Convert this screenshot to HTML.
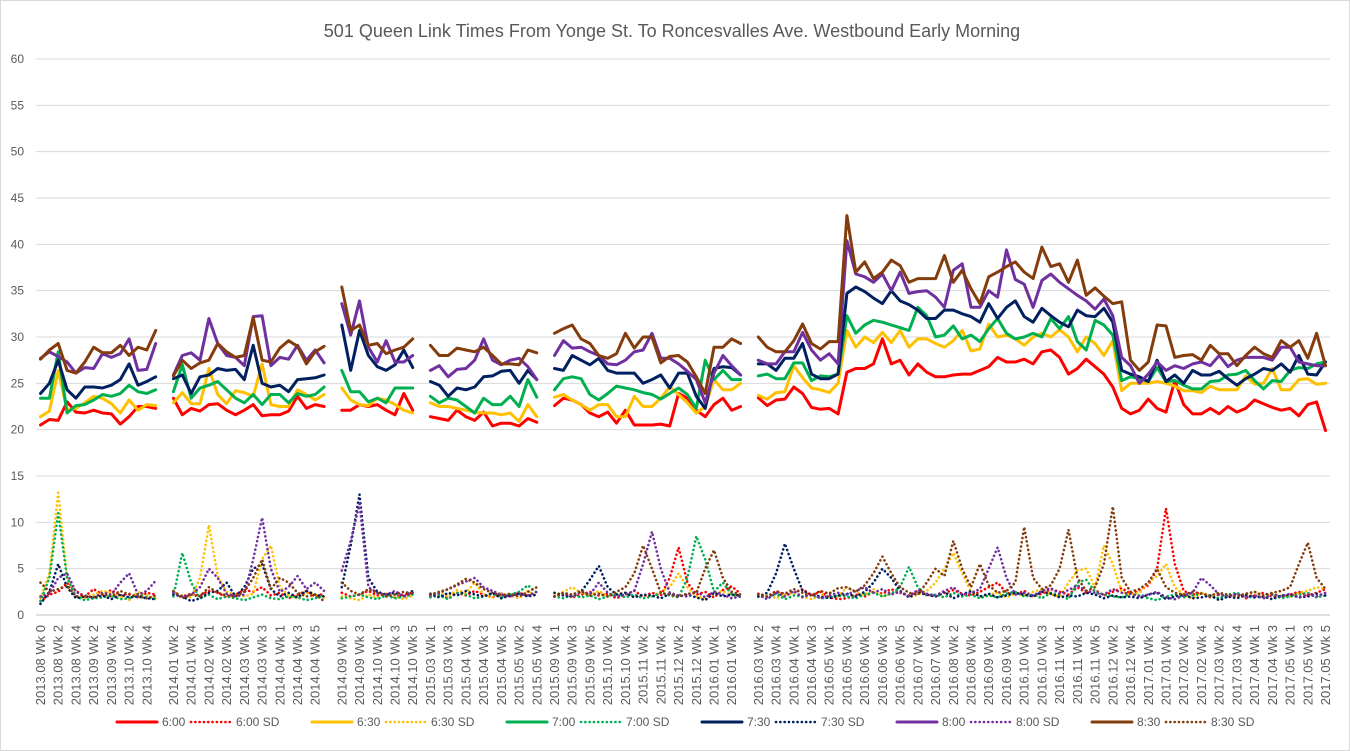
<!DOCTYPE html>
<html><head><meta charset="utf-8"><style>
html,body{margin:0;padding:0;background:#fff;}
svg{display:block;font-family:"Liberation Sans",Arial,sans-serif;}
</style></head><body>
<svg id="chart" width="1350" height="751" viewBox="0 0 1350 751">
<rect x="0.5" y="0.5" width="1349" height="750" fill="#fff" stroke="#d9d9d9"/>
<text x="672" y="37" text-anchor="middle" font-size="18" fill="#595959">501 Queen Link Times From Yonge St. To Roncesvalles Ave. Westbound Early Morning</text>
<g id="grid"></g><g id="yt"></g><g id="xt"></g><g id="series"></g><g id="legend"></g>
</svg>
<script>
const categories = [
"2013.08 Wk 0","2013.08 Wk 1","2013.08 Wk 2","2013.08 Wk 3","2013.08 Wk 4","2013.09 Wk 1","2013.09 Wk 2","2013.09 Wk 3","2013.09 Wk 4","2013.10 Wk 1","2013.10 Wk 2","2013.10 Wk 3","2013.10 Wk 4","2013.10 Wk 5",
"",
"2014.01 Wk 2","2014.01 Wk 3","2014.01 Wk 4","2014.01 Wk 5","2014.02 Wk 1","2014.02 Wk 2","2014.02 Wk 3","2014.02 Wk 4","2014.03 Wk 1","2014.03 Wk 2","2014.03 Wk 3","2014.03 Wk 4","2014.04 Wk 1","2014.04 Wk 2","2014.04 Wk 3","2014.04 Wk 4","2014.04 Wk 5","2014.05 Wk 1",
"",
"2014.09 Wk 1","2014.09 Wk 2","2014.09 Wk 3","2014.09 Wk 4","2014.10 Wk 1","2014.10 Wk 2","2014.10 Wk 3","2014.10 Wk 4","2014.10 Wk 5",
"",
"2015.03 Wk 1","2015.03 Wk 2","2015.03 Wk 3","2015.03 Wk 4","2015.04 Wk 1","2015.04 Wk 2","2015.04 Wk 3","2015.04 Wk 4","2015.04 Wk 5","2015.05 Wk 1","2015.05 Wk 2","2015.05 Wk 3","2015.05 Wk 4",
"",
"2015.09 Wk 1","2015.09 Wk 2","2015.09 Wk 3","2015.09 Wk 4","2015.09 Wk 5","2015.10 Wk 1","2015.10 Wk 2","2015.10 Wk 3","2015.10 Wk 4","2015.11 Wk 1","2015.11 Wk 2","2015.11 Wk 3","2015.11 Wk 4","2015.12 Wk 1","2015.12 Wk 2","2015.12 Wk 3","2015.12 Wk 4","2015.12 Wk 5","2016.01 Wk 1","2016.01 Wk 2","2016.01 Wk 3","2016.01 Wk 4",
"",
"2016.03 Wk 2","2016.03 Wk 3","2016.03 Wk 4","2016.03 Wk 5","2016.04 Wk 1","2016.04 Wk 2","2016.04 Wk 3","2016.04 Wk 4","2016.05 Wk 1","2016.05 Wk 2","2016.05 Wk 3","2016.05 Wk 4","2016.06 Wk 1","2016.06 Wk 2","2016.06 Wk 3","2016.06 Wk 4","2016.06 Wk 5","2016.07 Wk 1","2016.07 Wk 2","2016.07 Wk 3","2016.07 Wk 4","2016.08 Wk 1","2016.08 Wk 2","2016.08 Wk 3","2016.08 Wk 4","2016.08 Wk 5","2016.09 Wk 1","2016.09 Wk 2","2016.09 Wk 3","2016.09 Wk 4","2016.10 Wk 1","2016.10 Wk 2","2016.10 Wk 3","2016.10 Wk 4","2016.11 Wk 1","2016.11 Wk 2","2016.11 Wk 3","2016.11 Wk 4","2016.11 Wk 5","2016.12 Wk 1","2016.12 Wk 2","2016.12 Wk 3","2016.12 Wk 4","2017.01 Wk 1","2017.01 Wk 2","2017.01 Wk 3","2017.01 Wk 4","2017.02 Wk 1","2017.02 Wk 2","2017.02 Wk 3","2017.02 Wk 4","2017.03 Wk 1","2017.03 Wk 2","2017.03 Wk 3","2017.03 Wk 4","2017.03 Wk 5","2017.04 Wk 1","2017.04 Wk 2","2017.04 Wk 3","2017.04 Wk 4","2017.05 Wk 1","2017.05 Wk 2","2017.05 Wk 3","2017.05 Wk 4","2017.05 Wk 5"];

const yTicks = [0,5,10,15,20,25,30,35,40,45,50,55,60];
const seriesNames = ["6:00","6:00 SD","6:30","6:30 SD","7:00","7:00 SD","7:30","7:30 SD","8:00","8:00 SD","8:30","8:30 SD"];

const t600 = [20.5,21.1,21.0,23.0,21.9,21.8,22.1,21.8,21.7,20.6,21.4,22.5,22.5,22.3,null,
23.4,21.6,22.3,22.0,22.7,22.8,22.1,21.6,22.1,22.7,21.5,21.6,21.6,22.0,23.6,22.3,22.7,22.5,null,
22.1,22.1,22.7,22.5,22.7,22.1,21.6,23.9,22.1,null,
21.4,21.2,21.0,22.1,21.4,21.0,21.9,20.4,20.7,20.7,20.4,21.2,20.8,null,
22.6,23.4,23.2,22.7,21.8,21.4,21.9,20.7,22.1,20.5,20.5,20.5,20.6,20.4,23.9,23.4,22.1,21.4,22.7,23.4,22.1,22.5,null,
23.45,22.6,23.2,23.3,24.6,23.9,22.4,22.2,22.3,21.7,26.2,26.6,26.6,27.1,29.8,27.1,27.5,25.9,27.1,26.2,25.7,25.7,25.9,26.0,26.0,26.4,26.8,27.8,27.3,27.3,27.6,27.1,
28.4,28.6,27.8,26.0,26.6,27.6,26.8,26.0,24.6,22.3,21.7,22.1,23.3,22.3,21.9,25.3,22.7,21.7,21.7,22.3,21.7,22.5,21.9,22.3,23.2,22.8,22.4,22.1,22.3,21.5,22.7,23.0,19.9];

const t630 = [21.4,22.0,26.4,22.1,22.3,22.9,23.6,23.4,22.8,21.8,23.2,22.1,22.7,22.6,null,
22.9,24.0,22.8,22.8,26.6,23.8,22.8,24.2,24.0,23.6,27.1,22.7,22.5,22.5,24.3,23.8,23.2,23.8,null,
24.5,23.2,22.7,22.6,23.4,23.2,22.7,22.1,21.8,null,
22.9,22.5,22.5,22.3,22.1,21.9,21.8,21.8,21.6,21.8,20.9,22.7,21.4,null,
23.5,23.8,23.2,22.7,22.1,22.7,22.7,21.4,21.4,23.6,22.5,22.5,23.4,24.6,23.8,22.9,21.8,22.5,25.4,24.3,24.3,25.0,null,
23.7,23.3,24.0,24.1,26.9,25.6,24.5,24.3,24.0,25.0,30.7,28.9,30.0,29.4,30.5,29.4,30.7,28.9,29.8,29.8,29.3,28.9,29.6,30.7,28.5,28.7,31.4,30.0,30.2,29.8,29.1,30.0,
30.4,30.0,30.8,30.0,28.4,30.0,29.3,28.0,29.6,24.2,25.0,25.0,25.0,25.2,25.0,24.7,24.2,24.2,24.0,24.7,24.3,24.3,24.3,25.8,24.9,25.0,26.6,24.3,24.3,25.4,25.5,24.9,25.0];

const t700 = [23.4,23.4,28.4,21.8,22.6,22.7,23.2,23.8,23.6,23.9,24.8,24.1,23.9,24.3,null,
24.1,27.0,23.4,24.5,24.8,25.2,24.3,23.4,22.9,23.8,22.7,23.8,23.8,22.9,23.9,23.6,23.8,24.6,null,
26.4,24.1,24.1,23.0,23.4,22.9,24.5,24.5,24.5,null,
23.6,22.9,23.4,23.2,22.5,21.8,23.4,22.7,22.7,23.6,22.5,25.4,23.5,null,
24.3,25.5,25.7,25.5,23.8,23.2,23.9,24.7,24.5,24.3,24.0,23.8,23.3,23.9,24.5,23.8,22.3,27.5,25.4,26.4,25.4,25.4,null,
25.8,26.0,25.5,25.5,27.2,27.2,25.3,25.8,25.7,26.0,32.3,30.4,31.3,31.8,31.6,31.3,31.0,30.7,33.2,32.3,30.0,30.2,31.2,29.8,30.2,29.5,30.9,32.0,30.4,29.8,30.0,30.4,
30.0,32.0,30.9,32.2,29.5,28.6,31.8,31.3,30.2,25.3,25.7,25.5,25.2,26.7,25.2,25.3,24.8,24.4,24.4,25.2,25.3,25.9,26.0,26.4,25.3,24.4,25.3,25.2,26.4,26.7,26.6,27.1,27.3];

const t730 = [23.9,25.0,27.5,24.3,23.4,24.6,24.6,24.5,24.8,25.4,27.1,24.8,25.2,25.7,null,
25.5,25.9,23.9,25.7,25.9,26.6,26.4,26.5,25.4,29.1,25.0,24.6,24.8,24.1,25.4,25.5,25.6,25.9,null,
31.3,26.4,30.7,28.0,26.8,26.4,27.0,28.6,26.7,null,
25.2,24.8,23.6,24.5,24.3,24.6,25.7,25.8,26.3,26.4,25.0,26.4,25.4,null,
26.6,26.4,28.0,27.5,27.0,27.7,26.4,26.1,26.1,26.1,25.0,25.4,25.9,24.5,26.1,26.1,23.6,22.3,26.6,26.8,26.7,25.9,null,
27.1,27.1,26.4,27.7,27.7,29.3,26.0,25.5,25.5,26.0,34.7,35.4,34.9,34.2,33.6,35.0,33.9,33.5,32.9,32.0,32.0,32.9,32.9,32.5,32.2,31.6,33.6,32.0,33.2,33.9,32.2,31.6,
33.1,32.3,31.6,31.1,32.9,32.3,32.2,33.1,31.6,26.4,26.0,25.7,25.2,27.5,25.2,25.9,25.0,26.4,25.9,25.9,26.3,25.5,24.8,25.5,26.0,26.6,26.4,27.1,26.2,28.0,26.0,25.9,27.3];

const t800 = [27.7,28.4,27.9,27.3,26.1,26.7,26.6,28.2,27.8,28.2,29.8,26.4,26.5,29.3,null,
25.9,28.0,28.3,27.5,32.0,29.3,28.0,27.8,26.9,32.2,32.3,26.9,27.8,27.6,29.1,27.5,28.6,27.2,null,
33.6,30.2,33.9,28.9,27.3,29.6,27.3,27.3,28.0,null,
26.4,26.9,25.7,26.5,26.6,27.5,29.8,27.5,27.0,27.5,27.7,26.8,25.4,null,
28.0,29.6,28.8,28.9,28.4,28.0,27.1,27.0,27.5,28.4,28.6,30.4,27.7,27.7,27.1,26.3,25.4,22.9,26.1,28.0,26.9,25.9,null,
27.5,27.1,27.1,28.4,28.4,30.5,28.6,27.5,28.2,27.1,40.4,36.8,36.5,35.9,36.8,35.0,37.0,34.7,34.9,35.0,34.3,33.2,37.2,37.9,33.2,33.2,35.0,34.3,39.4,36.2,35.7,33.2,
36.1,36.8,35.9,35.2,34.5,33.9,33.0,34.1,32.3,27.8,26.9,25.0,26.0,27.3,26.4,26.9,26.6,27.1,27.3,26.9,28.0,26.8,27.5,27.8,27.8,27.8,27.5,28.9,28.9,27.3,27.1,26.9,26.9];

const t830 = [27.6,28.6,29.3,26.4,26.1,27.3,28.9,28.3,28.3,29.1,28.0,28.9,28.6,30.7,null,
25.8,27.5,26.6,27.2,27.5,29.3,28.4,27.8,28.0,32.1,27.5,27.3,28.8,29.6,29.0,27.1,28.4,29.0,null,
35.4,30.7,31.3,29.1,29.3,28.2,28.6,28.9,29.8,null,
29.1,28.0,28.0,28.8,28.6,28.4,28.9,28.0,27.1,27.1,27.0,28.6,28.3,null,
30.4,30.9,31.3,29.8,29.3,28.0,27.7,28.2,30.4,28.8,30.0,30.0,27.2,27.9,28.0,27.3,25.7,23.9,28.9,28.9,29.8,29.3,null,
30.0,28.9,28.4,28.4,29.6,31.4,29.3,28.7,29.5,29.5,43.1,37.0,38.1,36.3,37.0,38.3,37.7,35.9,36.3,36.3,36.3,38.8,35.9,37.2,35.2,33.6,36.5,37.0,37.6,38.1,37.0,36.3,
39.7,37.6,37.9,35.9,38.3,34.5,35.3,34.4,33.6,33.8,27.5,26.4,27.3,31.3,31.2,27.8,28.0,28.1,27.5,29.1,28.2,28.2,26.9,28.0,28.9,28.2,27.8,29.6,28.9,29.6,27.7,30.4,26.9];

const sd600 = [1.5,2.2,2.5,3.5,2.6,2.0,2.8,2.2,2.7,2.1,2.3,1.9,2.4,2.2,null,
2.5,2.0,2.3,2.1,2.6,2.4,1.9,2.2,2.7,2.5,3.0,2.1,2.4,1.8,2.2,2.6,2.0,2.3,null,
2.4,2.0,2.2,2.6,2.1,2.3,1.9,2.2,2.4,null,
2.0,2.3,1.8,2.4,2.1,2.6,2.2,1.9,2.3,2.0,2.4,2.1,2.2,null,
2.0,2.4,1.9,2.2,2.5,2.1,2.3,1.8,2.2,2.6,2.0,2.4,2.1,4.0,7.3,3.5,2.2,2.5,1.9,2.7,3.1,2.3,null,
2.3,2.0,2.6,2.2,2.4,2.8,2.1,2.5,1.9,1.7,1.8,2.2,2.0,2.5,2.3,2.8,2.4,2.1,2.6,2.2,2.0,2.4,2.7,2.3,2.1,2.5,3.0,3.5,2.4,2.2,2.6,2.0,2.3,2.8,2.5,2.2,3.0,2.4,2.7,2.1,2.5,2.9,2.3,2.6,3.2,5.0,11.5,5.5,2.6,2.2,2.4,1.9,2.2,2.0,2.3,1.8,2.1,2.4,2.0,1.9,2.2,2.5,2.1,2.4,2.8];

const sd630 = [1.8,4.5,13.2,4.0,2.0,1.8,2.2,2.6,2.4,2.0,1.6,2.5,2.1,1.8,null,
2.4,2.1,1.9,4.0,9.7,4.2,2.5,2.2,2.0,2.3,6.0,7.5,3.0,2.1,1.8,2.4,2.2,1.9,null,
2.0,1.8,1.6,2.2,1.9,2.3,2.0,1.7,2.1,null,
2.2,2.5,2.0,2.7,2.4,3.5,2.2,1.9,2.3,2.1,1.8,2.6,2.0,null,
2.2,2.5,3.0,2.4,2.1,2.6,2.0,2.3,2.4,1.9,2.2,2.0,2.5,3.0,4.5,3.0,2.0,1.8,2.3,2.6,2.1,2.2,null,
2.0,2.3,1.8,2.2,2.4,2.0,1.7,2.1,2.5,2.0,3.0,2.4,2.2,2.8,2.0,2.3,2.5,1.9,2.2,2.6,3.5,5.0,6.7,4.5,2.5,2.0,2.2,2.4,1.9,2.3,2.1,2.5,2.8,2.2,2.0,3.5,4.8,5.0,3.0,7.5,5.5,2.5,2.2,2.4,3.5,4.2,5.5,3.0,2.2,1.8,2.4,2.1,2.3,1.9,2.2,2.0,2.5,1.8,2.3,2.1,2.0,2.4,2.6,3.0,2.8];

const sd700 = [1.5,4.0,11.0,4.0,2.0,1.6,1.8,1.9,2.1,1.7,1.8,2.2,1.9,1.7,null,
2.0,6.7,3.5,1.8,2.2,1.7,2.0,1.8,1.6,1.9,2.2,1.8,1.7,2.0,1.9,1.6,1.8,2.1,null,
1.8,2.0,2.2,1.9,1.7,2.1,1.8,2.0,2.2,null,
1.9,2.1,1.7,2.4,2.2,1.8,2.0,2.3,1.9,2.2,2.5,3.2,2.4,null,
2.0,1.8,2.2,1.9,2.1,1.7,2.0,2.3,1.9,2.2,1.8,2.0,2.4,2.1,1.9,4.0,8.5,6.0,2.5,3.5,2.2,2.0,null,
2.0,1.9,2.3,1.7,2.1,2.0,2.2,1.8,1.9,2.1,2.0,1.8,2.2,2.4,2.0,2.3,3.0,5.2,3.0,2.1,2.2,1.9,2.4,2.0,2.2,1.8,2.1,1.9,2.3,2.5,2.0,2.2,1.8,2.4,2.1,1.7,3.5,3.8,2.5,2.2,2.0,1.9,2.3,2.1,1.8,1.6,2.0,2.2,1.9,2.1,2.3,2.0,1.8,2.2,2.4,2.0,1.9,2.1,2.3,1.8,2.0,2.2,2.4,1.9,2.1];

const sd730 = [1.2,2.5,5.5,3.0,1.8,2.0,1.9,2.1,1.7,2.2,1.9,2.0,1.8,1.7,null,
2.2,2.0,1.5,1.8,2.4,2.6,3.5,2.0,3.0,5.0,5.5,2.8,2.0,2.4,1.9,2.6,2.2,2.0,null,
3.0,7.5,13.0,4.0,2.5,2.2,2.4,2.0,2.6,null,
2.3,1.9,2.4,2.1,2.6,2.2,2.0,2.4,1.8,2.1,2.3,2.0,2.2,null,
2.4,2.1,2.0,2.5,3.8,5.3,3.0,2.2,2.4,1.9,2.2,2.1,1.8,2.3,2.0,2.2,1.9,1.6,2.4,2.0,2.2,2.1,null,
2.0,2.4,4.5,7.7,5.0,2.6,2.2,2.0,1.8,2.1,2.3,2.0,2.5,3.5,5.0,4.0,2.6,1.9,2.4,2.2,2.0,2.5,1.8,2.2,2.6,2.0,2.3,1.9,2.1,2.4,2.2,2.0,2.5,2.3,1.9,2.1,2.0,2.4,2.2,1.8,2.1,1.9,2.0,1.8,2.2,2.4,1.7,2.0,2.2,1.8,1.9,2.1,1.6,2.0,1.8,2.2,1.9,2.0,1.7,2.1,2.2,1.9,2.0,2.3,2.1];

const sd800 = [2.0,2.3,4.0,4.5,2.5,2.0,1.9,2.4,2.2,3.5,4.5,2.2,2.6,3.7,null,
2.4,2.0,2.2,3.0,5.0,4.0,2.3,2.0,2.2,6.0,10.5,5.0,2.5,3.0,4.2,2.8,3.5,2.6,null,
4.8,8.0,12.0,3.0,2.4,2.2,2.6,2.0,2.4,null,
2.1,2.4,2.8,3.2,3.6,4.0,3.0,2.6,2.2,2.0,2.3,2.1,2.5,null,
2.0,2.3,2.1,2.5,2.2,3.5,2.4,2.0,2.2,2.6,5.5,9.0,5.0,2.4,2.1,2.0,2.6,1.9,2.5,2.2,1.8,2.0,null,
2.2,1.7,2.4,2.0,2.6,1.9,2.3,1.8,2.1,2.4,2.2,2.6,3.0,2.4,2.8,2.2,2.5,2.0,2.7,2.3,2.1,2.6,3.0,2.2,2.4,2.8,5.0,7.3,4.0,2.2,2.4,2.1,2.6,2.9,2.3,2.7,3.2,2.6,2.4,2.2,2.8,2.4,2.3,2.0,2.2,2.5,1.9,1.7,2.1,2.4,4.0,3.2,2.2,2.0,2.3,1.9,2.1,1.8,2.2,2.0,2.3,1.9,2.2,2.0,2.4];

const sd830 = [3.5,2.5,2.8,3.2,2.0,2.1,1.9,2.3,2.0,2.6,2.2,2.0,1.8,2.1,null,
2.6,1.8,2.2,2.0,3.0,2.4,2.1,2.0,2.5,4.0,6.0,2.8,4.0,3.5,2.4,2.0,2.2,1.5,null,
3.5,2.6,2.2,2.8,2.4,2.0,2.2,2.5,2.3,null,
2.2,2.5,2.8,3.3,3.9,3.5,2.8,2.4,2.1,2.3,2.0,2.5,3.0,null,
2.0,2.4,2.2,2.6,2.1,2.3,2.0,2.5,3.0,4.5,7.5,5.0,2.4,2.2,2.0,2.3,2.4,5.0,7.0,4.0,2.5,2.2,null,
2.2,2.0,2.5,2.3,2.8,2.4,2.1,2.6,2.3,2.9,3.0,2.5,3.2,4.5,6.3,4.5,3.0,2.4,2.2,3.5,5.0,4.2,8.0,5.0,3.0,5.5,3.2,2.4,2.6,3.5,9.5,4.0,2.8,3.2,5.0,9.2,4.0,2.6,3.0,5.5,11.7,4.0,2.5,2.8,3.5,5.0,3.0,2.4,2.2,2.5,2.3,2.1,2.4,2.2,2.0,2.3,2.5,2.1,2.4,2.6,3.0,5.5,7.8,4.0,2.8];

const NS = "http://www.w3.org/2000/svg";
const L = 36, R = 1330, TOP = 59, BOT = 615, YMAX = 60;
const N = categories.length;
const step = (R - L - 9) / (N - 1);
function xPos(i){ return L + 4.5 + i * step; }
function yPos(v){ return BOT - v / YMAX * (BOT - TOP); }
function mk(tag, attrs, parent){ const e = document.createElementNS(NS, tag); for (const k in attrs) e.setAttribute(k, attrs[k]); parent.appendChild(e); return e; }

const grid = document.getElementById('grid'), yt = document.getElementById('yt'), xt = document.getElementById('xt');
yTicks.forEach(v => {
  const ln = mk('line', {x1:L, x2:R, y1:yPos(v), y2:yPos(v), stroke: v===0 ? '#bfbfbf' : '#d9d9d9', 'stroke-width':1}, grid);
  
  
  const t = mk('text', {x:24, y:yPos(v)+4, 'text-anchor':'end', 'font-size':12, fill:'#595959'}, yt);
  t.textContent = v;
  
  
});

let segPos = 0;
categories.forEach((c, i) => {
  if (c === '') { segPos = 0; return; }
  if (segPos % 2 === 0) {
    const x = xPos(i) + 4.5, y = 625;
    const t = mk('text', {x:x, y:y, 'text-anchor':'end', 'font-size':13, fill:'#595959', transform:'rotate(-90 ' + x + ' ' + y + ')'}, xt);
    t.textContent = c;
    
    
  }
  segPos++;
});

const colors = ['#FF0000','#FF0000','#FFC000','#FFC000','#00B050','#00B050','#002060','#002060','#7030A0','#7030A0','#843C0C','#843C0C'];
const data = [t600, sd600, t630, sd630, t700, sd700, t730, sd730, t800, sd800, t830, sd830];
const sg = document.getElementById('series');
function pathFor(arr){
  let d = '', pen = false;
  arr.forEach((v, i) => {
    if (v === null || v === undefined) { pen = false; return; }
    d += (pen ? 'L' : 'M') + xPos(i).toFixed(1) + ' ' + yPos(v).toFixed(1);
    pen = true;
  });
  return d;
}
[1,3,5,7,9,11,0,2,4,6,8,10].forEach(k => {
  const dotted = k % 2 === 1;
  const p = mk('path', {d:pathFor(data[k]), fill:'none', stroke:colors[k], 'stroke-width': dotted ? 2.6 : 3, 'stroke-linejoin':'round', 'stroke-linecap':'round'}, sg);
  if (dotted) p.setAttribute('stroke-dasharray', '0.1 4.2');
  
  
});

const lg = document.getElementById('legend');
seriesNames.forEach((n, k) => {
  const pair = Math.floor(k / 2), dotted = k % 2 === 1;
  const x0 = 117 + pair * 195 + (dotted ? 74 : 0);
  const g = mk('g', {}, lg);
  
  
  const ln = mk('line', {x1:x0, x2:x0+40, y1:722, y2:722, stroke:colors[k], 'stroke-width': dotted ? 2.6 : 3, 'stroke-linecap':'round'}, g);
  if (dotted) ln.setAttribute('stroke-dasharray', '0.1 4.2');
  const t = mk('text', {x:x0+45, y:726, 'font-size':12, fill:'#595959'}, g);
  t.textContent = n;
});
</script>
</body></html>
